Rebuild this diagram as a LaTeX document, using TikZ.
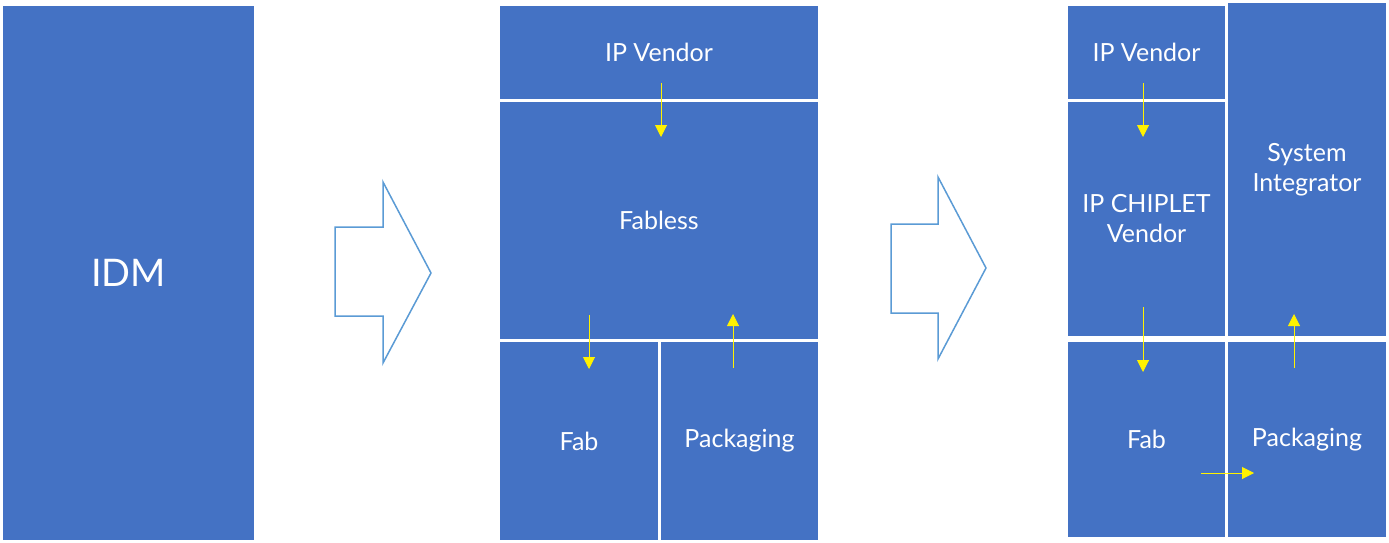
\documentclass[tikz,border=0pt]{standalone}
\usepackage{fontspec}
\setmainfont{Lato}
\usepackage{tikz}
\usetikzlibrary{positioning,arrows.meta}
\definecolor{boxblue}{HTML}{4472C4}
\definecolor{shiftblue}{HTML}{5B9BD5}
\tikzset{
    block/.style = {
       shape=rectangle,
       align=center,
       inner sep=0pt,
       text=white,
       font=\fontsize{25}{30}\selectfont,
       fill = boxblue
    },
    yarrow/.style = {
       draw, color=yellow, line width=1pt,
       -{Triangle[width=12pt,length=12pt]}
    },
    shiftarrow/.style = {
       draw=shiftblue, line width=1.5pt, fill=white, line join=miter
    }
}
\begin{document}
\begin{tikzpicture}[x=1pt,y=-1pt]
   \useasboundingbox (0,0) rectangle (1389,543);
   % integrated device manufacturer
   \node[block, minimum width=251pt, minimum height=534pt, font=\fontsize{38}{46}\selectfont] (IDM) at (128.5,273) {IDM};
   % fabless era
   \node[block, minimum width=318pt, minimum height=93pt] (IPVendor) at (659,52.5) {IP Vendor};
   \node[block, minimum width=318pt, minimum height=237pt] (Fabless) at (659,220.5) {Fabless};
   \node[block, minimum width=158pt, minimum height=198pt] (Fab) at (579,441) {Fab};
   \node[block, minimum width=157pt, minimum height=198pt] (Packaging) at (739.5,441) {Packaging};
   % chiplet era
   \node[block, minimum width=157pt, minimum height=93pt] (IPVendorC) at (1146.5,52.5) {IP Vendor};
   \node[block, minimum width=157pt, minimum height=234pt] (Chiplet) at (1146.5,219) {IP CHIPLET\\Vendor};
   \node[block, minimum width=158pt, minimum height=333pt] (Integrator) at (1307,169.5) {System\\Integrator};
   \node[block, minimum width=157pt, minimum height=195pt] (FabC) at (1146.5,439.5) {Fab};
   \node[block, minimum width=158pt, minimum height=195pt] (PackagingC) at (1307,439.5) {Packaging};
   % shift arrows
   \draw[shiftarrow] (335,227) -- (383,227) -- (383,182) -- (431,273) -- (383,363) -- (383,316) -- (335,316) -- cycle;
   \draw[shiftarrow] (891,224) -- (938,224) -- (938,177) -- (986,268) -- (938,359) -- (938,313) -- (891,313) -- cycle;
   % flow coordinates
   \coordinate (IPVendorOut) at (661,83);
   \coordinate (FablessIn) at (661,137);
   \coordinate (FablessOut) at (589,315);
   \coordinate (FabIn) at (589,369);
   \coordinate (PackagingOut) at (733,368);
   \coordinate (FablessBack) at (733,314);
   \coordinate (IPVendorCOut) at (1143,83);
   \coordinate (ChipletIn) at (1143,137);
   \coordinate (ChipletOut) at (1143,307);
   \coordinate (FabCIn) at (1143,372);
   \coordinate (PackagingCOut) at (1294,368);
   \coordinate (IntegratorIn) at (1294,314);
   \coordinate (FabCOut) at (1201,473);
   \coordinate (PackagingCIn) at (1254,473);
\path
(IPVendorOut) edge[yarrow] (FablessIn)
(FablessOut) edge[yarrow] (FabIn)
(PackagingOut) edge[yarrow] (FablessBack)
(IPVendorCOut) edge[yarrow] (ChipletIn)
(ChipletOut) edge[yarrow] (FabCIn)
(PackagingCOut) edge[yarrow] (IntegratorIn)
(FabCOut) edge[yarrow] (PackagingCIn);
\end{tikzpicture}
\end{document}
